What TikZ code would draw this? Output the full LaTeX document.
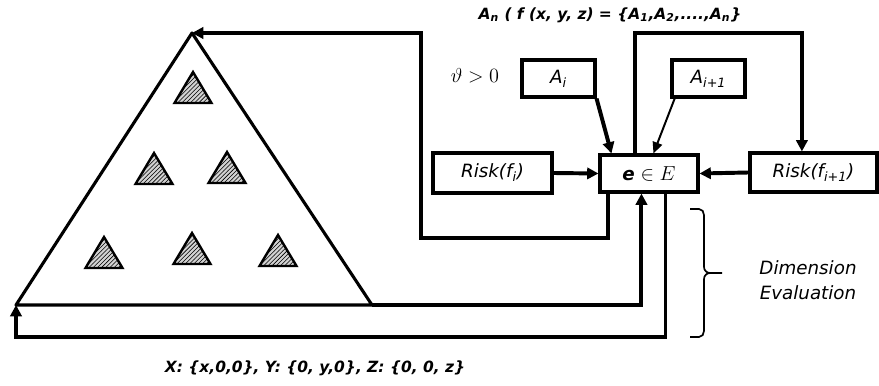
\documentclass[tikz,border=0pt]{standalone}
\usepackage{fontspec}
\setsansfont{DejaVu Sans}
\usetikzlibrary{arrows.meta, patterns}

\begin{document}
\begin{tikzpicture}[
    x=0.025cm, y=-0.025cm,
    every node/.style={font=\sffamily\itshape\fontsize{13}{18}\selectfont},
    box/.style={rectangle, draw, line width=2.2pt, inner sep=0pt},
    flow/.style={line width=2.8pt, -{Triangle[length=8pt, width=8pt]}},
    thinflow/.style={line width=1.4pt, -{Triangle[length=8pt, width=7pt]}},
    mini/.style={draw, line width=1.7pt, line join=miter, fill=gray!35, postaction={pattern=north east lines}},
    lab/.style={font=\sffamily\itshape\bfseries\fontsize{11}{13}\selectfont},
]
\useasboundingbox (0,0) rectangle (879,386);

% the big triangle
\coordinate (apex) at (192,33);
\coordinate (bl) at (16,305);
\coordinate (br) at (372,305);
\draw[line width=2.2pt, line join=round] (bl) -- (apex) -- (br) -- cycle;
\foreach \x/\y in {193/72, 154/153, 227/152, 104/237, 192/233, 278/235}{
    \draw[mini] (\x,\y) -- ++(18.5,31) -- ++(-37,0) -- cycle;
}

% the boxes
\node[box, minimum width=2.45cm, minimum height=0.925cm] (ebox) at (649,173.5)
    {\upshape{\bfseries\itshape e} {\fontsize{15}{18}\selectfont$\in E$}};
\node[box, minimum width=2.975cm, minimum height=1cm] (riski) at (492.5,173) {Risk(f\textsubscript{i})};
\node[box, minimum width=3.175cm, minimum height=0.975cm] (riskii) at (813.5,172.5) {Risk(f\textsubscript{i+1})};
\node[box, minimum width=1.825cm, minimum height=0.925cm] (ai) at (558.5,78.5) {A\textsubscript{i}};
\node[box, minimum width=1.825cm, minimum height=0.925cm] (aii) at (708.5,78.5) {A\textsubscript{i+1}};

% labels
\node[font=\fontsize{14}{18}\selectfont] (theta) at (475,76) {$\vartheta > 0$};
\node[lab] (toplbl) at (610,15)
    {A\textsubscript{n} ( f (x, y, z) = \{A\textsubscript{1},A\textsubscript{2},....,A\textsubscript{n}\}};
\node[lab] (axes) at (315,368) {X: \{x,0,0\}, Y: \{0, y,0\}, Z: \{0, 0, z\}};
\node[align=center] (dimlbl) at (808,280) {Dimension\\Evaluation};

% connectors
\draw[flow] (riski.east) -- (ebox.west);
\draw[flow] (riskii.west) -- (ebox.east);
\draw[flow] (ai.south east) -- ([xshift=0.325cm]ebox.north west);
\draw[thinflow] ([xshift=3]aii.south west) -- ([xshift=1.375cm]ebox.north west);
\draw[flow] ([xshift=0.925cm]ebox.north west) -- ++(0,-120) -| ([xshift=-0.29cm]riskii.north);
\draw[flow] ([xshift=0.25cm]ebox.south west) -- ++(0,44) -| (421,33) -- (apex);
\draw[flow] (br) -| ([xshift=1.075cm]ebox.south west);
\coordinate (loopl) at (16,337);
\draw[flow] ([xshift=1.675cm]ebox.south west) |- (loopl) -- (bl);

% the brace
\draw[line width=1.2pt] (690,209) -- (699,209) to[out=0, in=90] (704,215) -- (704,267)
    to[out=-90, in=180] (710,273) -- (722,273) -- (710,273) to[out=180, in=90] (704,279)
    -- (704,331) to[out=-90, in=0] (699,337) -- (690,337);

\end{tikzpicture}
\end{document}
